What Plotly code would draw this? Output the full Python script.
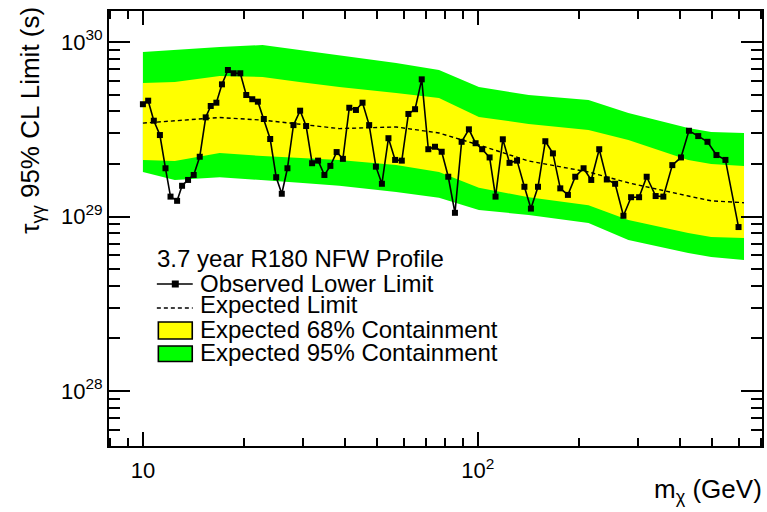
import plotly.graph_objects as go

# Observed lower limit on the gamma-gamma decay lifetime (units of 1e29 s)
mass_obs = [10.0, 10.37, 10.78, 11.24, 11.68, 12.09, 12.65, 13.09, 13.64, 14.18,
            14.78, 15.40, 15.94, 16.57, 17.22, 17.94, 18.66, 19.53, 20.35, 21.21,
            22.04, 22.96, 23.99, 25.00, 25.98, 27.01, 28.15, 29.47, 30.71, 32.00,
            33.34, 34.82, 36.28, 37.88, 39.54, 41.32, 43.25, 45.25, 47.37, 49.61,
            51.70, 54.08, 56.62, 59.28, 62.03, 64.94, 67.98, 71.13, 74.47, 77.98,
            81.59, 85.42, 89.43, 94.02, 98.45, 103.0, 108.4, 112.9, 118.7, 124.3,
            130.9, 137.7, 144.0, 151.2, 159.0, 167.5, 176.2, 185.7, 195.3, 206.8,
            218.0, 230.3, 242.6, 256.9, 272.0, 286.7, 302.9, 319.1, 339.4, 357.8,
            380.6, 403.9, 426.7, 454.8, 484.7, 515.5, 548.3, 600.0]
tau_obs = [4.40, 4.61, 3.54, 2.93, 1.89, 1.30, 1.23, 1.50, 1.62, 1.73,
           2.20, 3.70, 4.30, 4.49, 5.72, 6.91, 6.62, 6.62, 4.97, 4.70,
           4.55, 3.62, 2.78, 1.68, 1.35, 1.89, 3.34, 4.04, 3.30, 2.02,
           2.09, 1.73, 1.95, 2.34, 2.14, 4.20, 4.08, 4.49, 3.34, 1.93,
           1.54, 2.81, 2.11, 2.09, 3.87, 4.12, 6.11, 2.43, 2.51, 2.35,
           1.69, 1.05, 2.68, 3.16, 2.63, 2.43, 2.18, 1.30, 2.77, 2.03,
           2.09, 1.48, 1.11, 1.48, 2.70, 2.30, 1.45, 1.33, 1.69, 1.89,
           1.62, 2.43, 1.63, 1.54, 1.01, 1.29, 1.29, 1.69, 1.31, 1.30,
           1.97, 2.18, 3.10, 2.89, 2.68, 2.25, 2.11, 0.87]

# Expected limit and containment bands (units of 1e29 s)
mass_band = [10.0, 12.45, 16.95, 22.76, 29.33, 38.58, 57.02, 76.55, 100.7,
             141.8, 213.9, 281.4, 424.6, 497.1, 623.0]
band95_hi = [8.76, 9.00, 9.36, 9.61, 9.00, 8.43, 7.58, 6.91, 5.52,
             4.97, 4.65, 3.92, 3.22, 3.05, 3.01]
band68_hi = [5.82, 5.90, 6.39, 6.30, 5.90, 5.52, 5.10, 4.78, 3.72,
             3.39, 3.13, 2.74, 2.11, 2.00, 1.95]
expected = [3.43, 3.53, 3.69, 3.57, 3.39, 3.19, 3.26, 3.01, 2.57,
            2.08, 1.80, 1.56, 1.31, 1.23, 1.20]
band68_lo = [2.11, 2.08, 2.31, 2.22, 2.16, 2.11, 1.97, 1.80, 1.46,
             1.29, 1.16, 0.955, 0.804, 0.763, 0.753]
band95_lo = [1.80, 1.62, 1.68, 1.62, 1.56, 1.50, 1.38, 1.28, 1.09,
             1.02, 0.918, 0.733, 0.618, 0.586, 0.563]

# Axis ticks
x_major = [10, 100]
x_major_text = ["10", "10<sup>2</sup>"]
x_minor = [8, 9, 20, 30, 40, 50, 60, 70, 80, 90, 200, 300, 400, 500, 600, 700]
y_major = [1e28, 1e29, 1e30]
y_major_text = ["10<sup>28</sup>", "10<sup>29</sup>", "10<sup>30</sup>"]
y_minor = [6e27, 7e27, 8e27, 9e27,
           2e28, 3e28, 4e28, 5e28, 6e28, 7e28, 8e28, 9e28,
           2e29, 3e29, 4e29, 5e29, 6e29, 7e29, 8e29, 9e29]

UNIT = 1e29
FONT = "Liberation Sans, Arial, Helvetica, sans-serif"
W, H = 767, 512
L, R, T, B = 109, 3, 11, 66


def s(vals):
    return [v * UNIT for v in vals]


def px(x):
    return (x - L) / (W - L - R)


def py(y):
    return (H - B - y) / (H - T - B)


fig = go.Figure()

fig.add_trace(go.Scatter(
    x=mass_band + mass_band[::-1], y=s(band95_hi + band95_lo[::-1]),
    fill="toself", fillcolor="#00FF00", mode="lines", line=dict(width=0),
    hoverinfo="skip", showlegend=False))
fig.add_trace(go.Scatter(
    x=mass_band + mass_band[::-1], y=s(band68_hi + band68_lo[::-1]),
    fill="toself", fillcolor="#FFFF00", mode="lines", line=dict(width=0),
    hoverinfo="skip", showlegend=False))
fig.add_trace(go.Scatter(
    x=mass_band, y=s(expected), mode="lines",
    line=dict(color="black", width=1.4, dash="4px,3px"), showlegend=False))
fig.add_trace(go.Scatter(
    x=mass_obs, y=s(tau_obs), mode="lines+markers",
    line=dict(color="black", width=1.6),
    marker=dict(symbol="square", size=6, color="black"), showlegend=False))

axis_common = dict(
    type="log", showgrid=False, zeroline=False, showline=True,
    linecolor="black", linewidth=1.8, mirror="allticks", ticks="inside",
    tickcolor="black", tickwidth=1.6,
    tickfont=dict(family=FONT, size=22, color="black"),
)
fig.update_xaxes(
    range=[0.8988, 2.8482], tickmode="array", tickvals=x_major,
    ticktext=x_major_text, ticklen=14, ticklabelstandoff=4,
    minor=dict(tickmode="array", tickvals=x_minor, ticks="inside", ticklen=8,
               tickwidth=1.6, tickcolor="black", showgrid=False),
    **axis_common)
fig.update_yaxes(
    range=[27.6848, 30.1777], tickmode="array", tickvals=y_major,
    ticktext=y_major_text, ticklen=21,
    minor=dict(tickmode="array", tickvals=y_minor, ticks="inside", ticklen=11,
               tickwidth=1.6, tickcolor="black", showgrid=False),
    **axis_common)

annotations = [
    dict(text="τ<sub>γγ</sub> 95% CL Limit (s)", textangle=-90,
         x=px(31), y=py(5), xanchor="center", yanchor="top",
         font=dict(family=FONT, size=26, color="black")),
    dict(text="m<sub>χ</sub> (GeV)", x=px(766), y=py(490),
         xanchor="right", yanchor="middle",
         font=dict(family=FONT, size=26, color="black")),
    dict(text="3.7 year R180 NFW Profile", x=px(155), y=py(258),
         xanchor="left", yanchor="middle"),
    dict(text="Observed Lower Limit", x=px(198), y=py(283),
         xanchor="left", yanchor="middle"),
    dict(text="Expected Limit", x=px(198), y=py(304),
         xanchor="left", yanchor="middle"),
    dict(text="Expected 68% Containment", x=px(198), y=py(329),
         xanchor="left", yanchor="middle"),
    dict(text="Expected 95% Containment", x=px(198), y=py(352),
         xanchor="left", yanchor="middle"),
]
for a in annotations:
    a.update(xref="paper", yref="paper", showarrow=False)
    a.setdefault("font", dict(family=FONT, size=24, color="black"))

shapes = [
    # observed-limit key: line with a square marker
    dict(type="line", x0=px(157), x1=px(193), y0=py(284), y1=py(284),
         line=dict(color="black", width=1.6)),
    dict(type="rect", x0=px(172), x1=px(179), y0=py(280.5), y1=py(287.5),
         fillcolor="black", line=dict(width=0)),
    # expected-limit key
    dict(type="line", x0=px(157), x1=px(193), y0=py(308), y1=py(308),
         line=dict(color="black", width=1.4, dash="4px,3px")),
    # containment keys
    dict(type="rect", x0=px(158.5), x1=px(192.5), y0=py(322), y1=py(339),
         fillcolor="#FFFF00", line=dict(color="black", width=1.6)),
    dict(type="rect", x0=px(158.5), x1=px(192.5), y0=py(346), y1=py(361.5),
         fillcolor="#00FF00", line=dict(color="black", width=1.6)),
]
for sh in shapes:
    sh.update(xref="paper", yref="paper")

fig.update_layout(
    width=W, height=H, margin=dict(l=L, r=R, t=T, b=B),
    paper_bgcolor="white", plot_bgcolor="white",
    showlegend=False, annotations=annotations, shapes=shapes,
    font=dict(family=FONT, color="black"),
)

fig.write_html("out.html")
